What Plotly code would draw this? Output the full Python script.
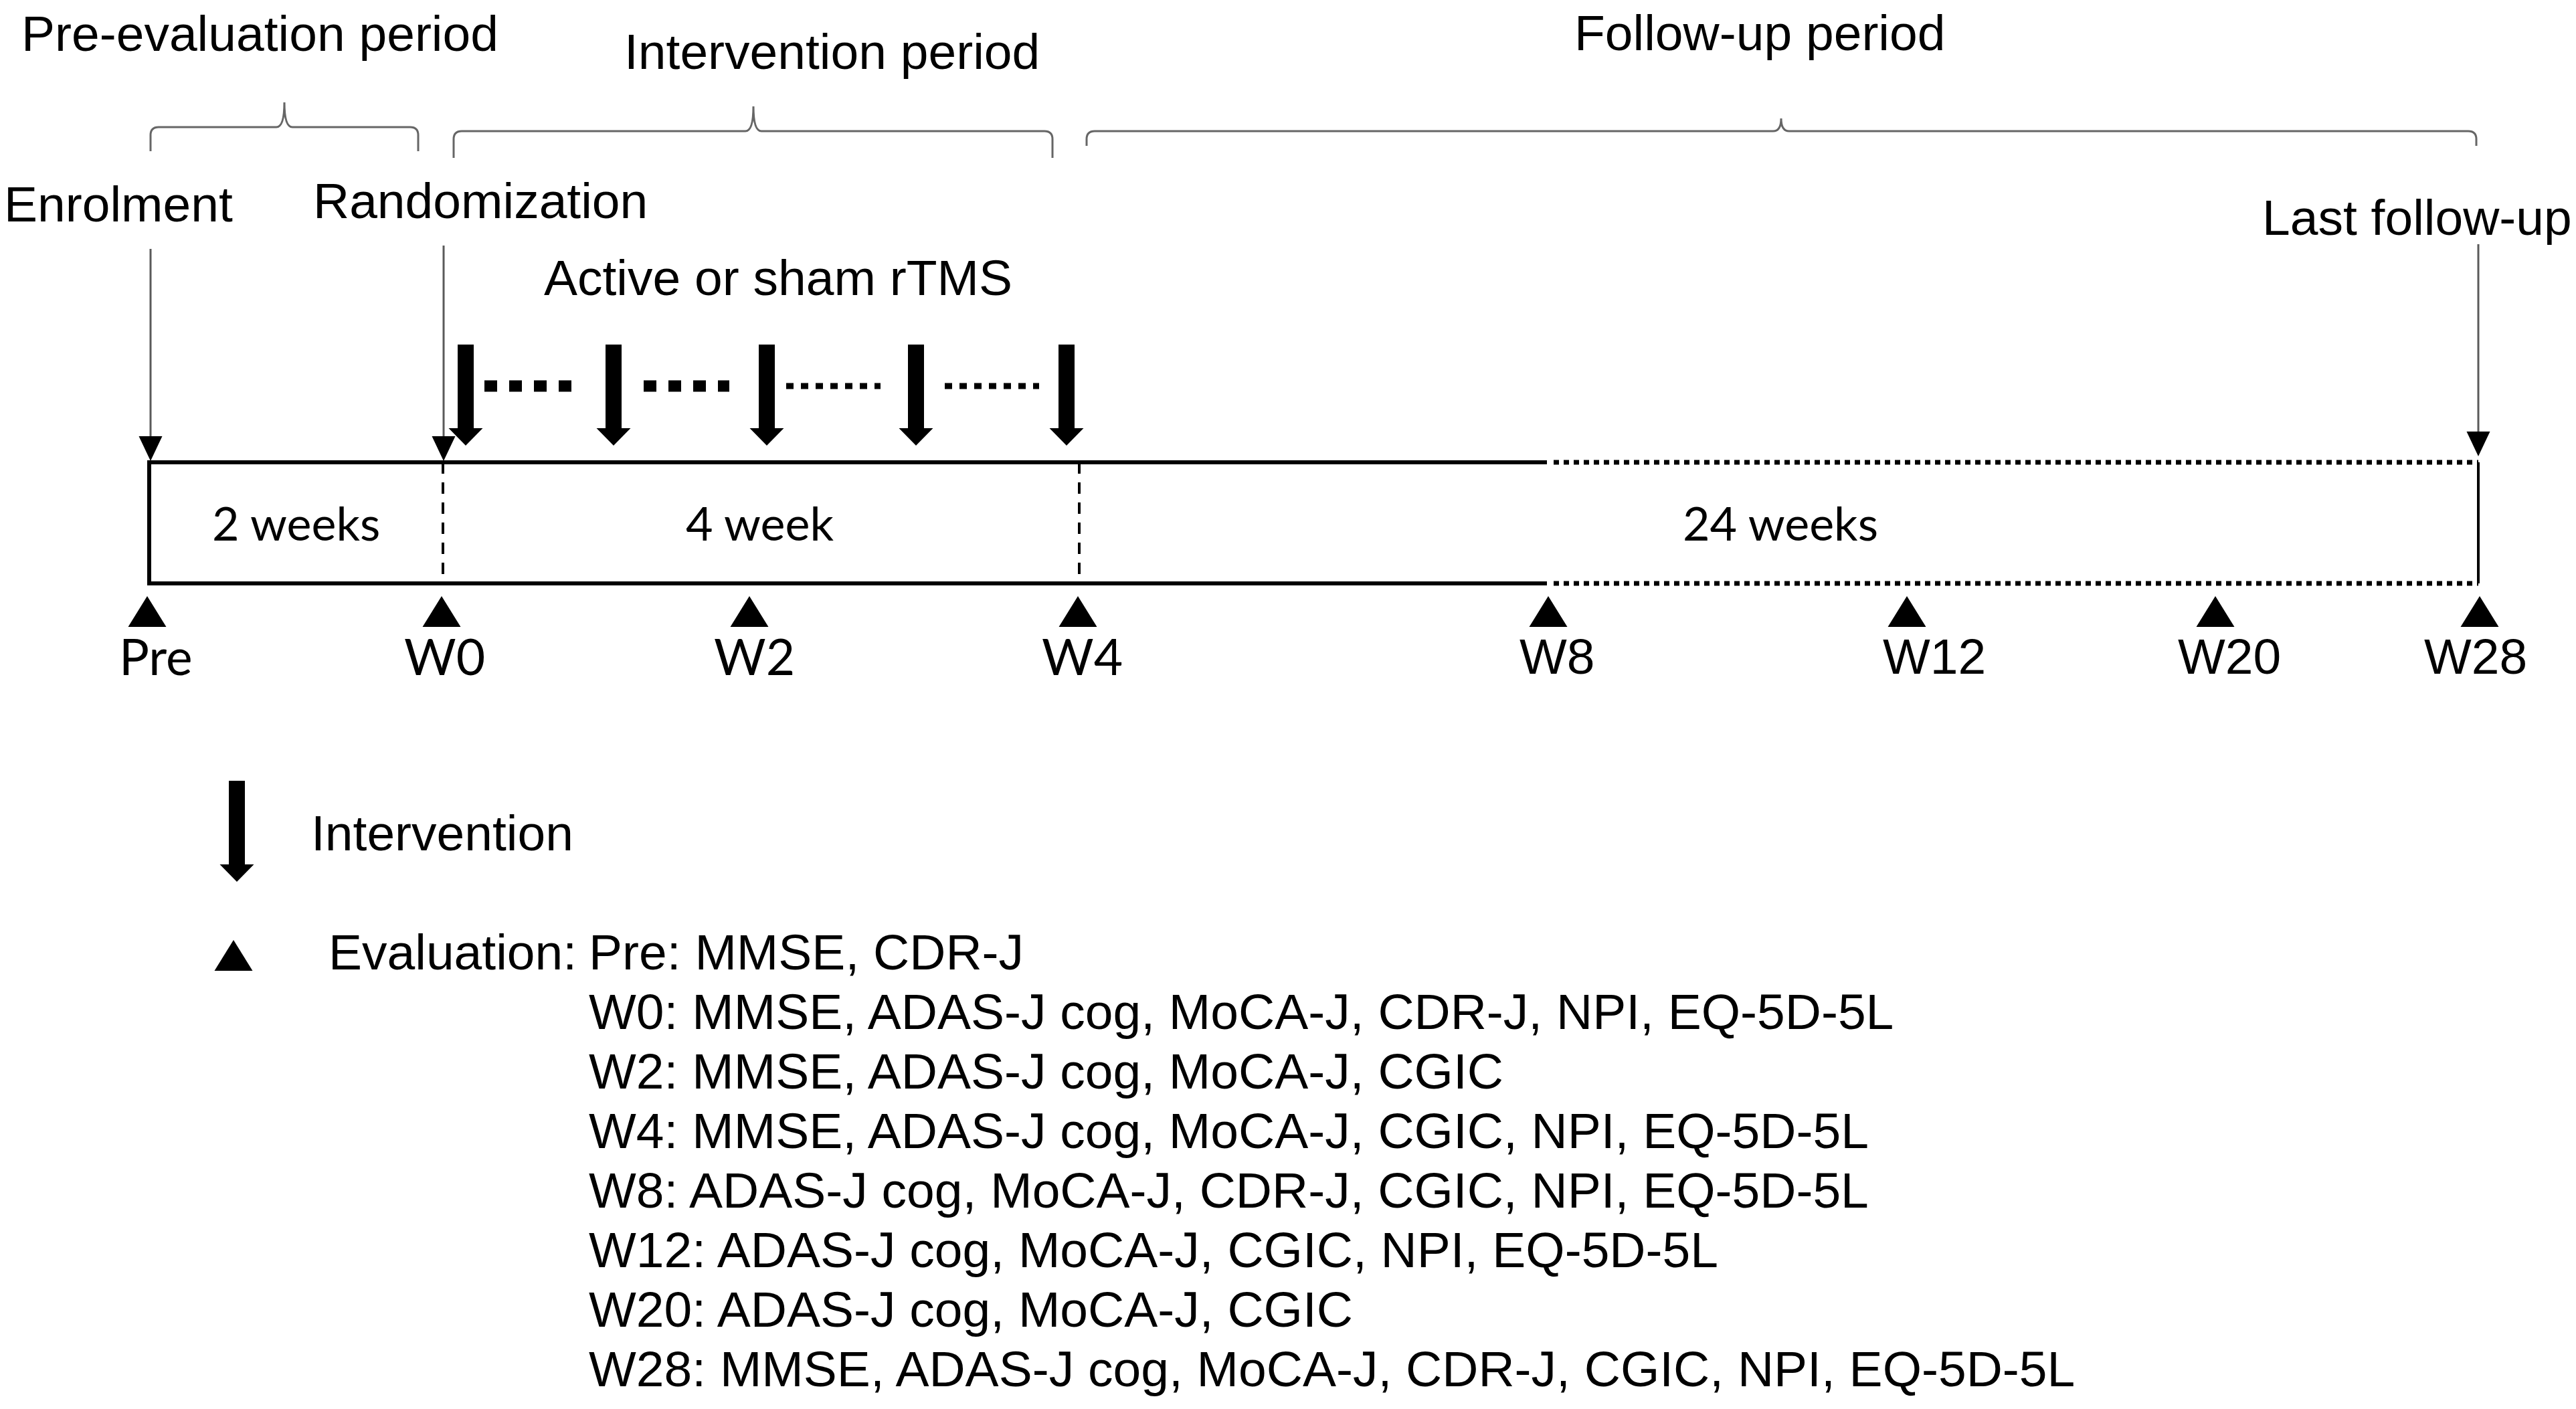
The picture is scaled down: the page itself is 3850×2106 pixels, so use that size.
import plotly.graph_objects as go

W, H = 3850, 2106

# evaluation time points on the timeline
TIMEPOINTS = ["Pre", "W0", "W2", "W4", "W8", "W12", "W20", "W28"]
MEASURES = [
    "MMSE, CDR-J",
    "MMSE, ADAS-J cog, MoCA-J, CDR-J, NPI, EQ-5D-5L",
    "MMSE, ADAS-J cog, MoCA-J, CGIC",
    "MMSE, ADAS-J cog, MoCA-J, CGIC, NPI, EQ-5D-5L",
    "ADAS-J cog, MoCA-J, CDR-J, CGIC, NPI, EQ-5D-5L",
    "ADAS-J cog, MoCA-J, CGIC, NPI, EQ-5D-5L",
    "ADAS-J cog, MoCA-J, CGIC",
    "MMSE, ADAS-J cog, MoCA-J, CDR-J, CGIC, NPI, EQ-5D-5L",
]
PERIOD_LENGTHS = ["2 weeks", "4 week", "24 weeks"]
PERIOD_NAMES = ["Pre-evaluation period", "Intervention period", "Follow-up period"]
MILESTONES = ["Enrolment", "Randomization", "Last follow-up"]
N_SESSIONS_SHOWN = 5

# ---- layout (pixel positions of the schematic) ----
tp_x = [220, 660, 1120, 1611, 2314, 2850, 3311, 3706]
tp_label_x = [233, 664, 1127, 1617, 2327, 2891, 3332, 3700]
tp_label_font = ["Lato", "Lato", "Lato", "Lato",
                 "Liberation Sans", "Liberation Sans", "Liberation Sans", "Liberation Sans"]
box_top, box_bot = 691, 872
box_left, box_solid_end, box_right = 223, 2312, 3704
dash_x = [662, 1613]
period_x = [442, 1136, 2661]
session_x = [696, 917, 1146, 1369, 1594]
# brace: x0, x1, xc, y of bar, end drop, tip rise
braces = [(225, 625, 425, 190, 36, 37),
          (678, 1573, 1126, 196, 40, 37),
          (1624, 3701, 2662, 196, 22, 19)]
brace_label = [(388, 77), (1243, 104), (2630, 76)]
milestone_x = [225, 663, 3704]
milestone_top = [372, 367, 365]
milestone_tip = [689, 689, 682]
milestone_label = [(177, 332), (718, 327), (3612, 352)]
connectors = [(724, 855, "19px,18px", 17), (962, 1090, "19px,18px", 17),
              (1175, 1316, "11px,11px", 9), (1412, 1553, "11px,11px", 9)]

FS = 75
ARIAL = "Liberation Sans"


def tri_up(xs, apex, w=57, h=46):
    px, py = [], []
    for x in xs:
        px += [x - w / 2, x + w / 2, x, x - w / 2, None]
        py += [apex + h, apex + h, apex, apex + h, None]
    return px, py


def tri_down(xs, tips, w, h):
    px, py = [], []
    for x, tip in zip(xs, tips):
        px += [x - w / 2, x + w / 2, x, x - w / 2, None]
        py += [tip - h, tip - h, tip, tip - h, None]
    return px, py


def thick_arrows(xs, top, tip, shaft=24, hw=51, hh=26):
    px, py = [], []
    for x in xs:
        b = tip - hh
        px += [x - shaft / 2, x + shaft / 2, x + shaft / 2, x + hw / 2, x,
               x - hw / 2, x - shaft / 2, x - shaft / 2, None]
        py += [top, top, b, b, tip, b, b, top, None]
    return px, py


def poly(px, py, color="black"):
    return go.Scatter(x=px, y=py, mode="lines", fill="toself", fillcolor=color,
                      line=dict(width=0, color=color), hoverinfo="skip")


def seg(xs, ys, width, color="black", dash="solid"):
    return go.Scatter(x=xs, y=ys, mode="lines", line=dict(width=width, color=color, dash=dash),
                      hoverinfo="skip")


fig = go.Figure()

# timeline box
fig.add_trace(seg([box_solid_end, box_left, box_left, box_solid_end],
                  [box_top, box_top, box_bot, box_bot], 6))
fig.add_trace(seg([box_solid_end + 10, box_right, None, box_solid_end + 10, box_right],
                  [box_top, box_top, None, box_bot, box_bot], 7, dash="8px,7px"))
fig.add_trace(seg([box_right, box_right], [box_top, box_bot], 4))
for x in dash_x:
    fig.add_trace(seg([x, x], [box_top, box_bot], 4, dash="17px,13px"))

# evaluation triangles
fig.add_trace(poly(*tri_up(tp_x, 891)))

# intervention sessions
fig.add_trace(poly(*thick_arrows(session_x[:N_SESSIONS_SHOWN], 515, 666)))
for x0, x1, dash, w in connectors:
    fig.add_trace(seg([x0, x1], [577, 577], w, dash=dash))

# milestone arrows
for x, t0, t1 in zip(milestone_x, milestone_top, milestone_tip):
    fig.add_trace(seg([x, x], [t0, t1 - 30], 3, color="#5a5a5a"))
fig.add_trace(poly(*tri_down(milestone_x, milestone_tip, 35, 37)))

# legend symbols
fig.add_trace(poly(*thick_arrows([354], 1167, 1318)))
fig.add_trace(poly(*tri_up([349], 1405)))

# braces
shapes = []
c = 12
for x0, x1, xc, yl, d, r in braces:
    path = (f"M{x0},{yl + d} L{x0},{yl + c} Q{x0},{yl} {x0 + c},{yl} "
            f"L{xc - c},{yl} Q{xc},{yl} {xc},{yl - r} Q{xc},{yl} {xc + c},{yl} "
            f"L{x1 - c},{yl} Q{x1},{yl} {x1},{yl + c} L{x1},{yl + d}")
    shapes.append(dict(type="path", path=path, xref="x", yref="y",
                       line=dict(color="#666666", width=3)))

ann = []


def text(t, x, base, size=FS, family=ARIAL, xanchor="center", k=0.36):
    ann.append(dict(text=t, x=x, y=base - k * size, xref="x", yref="y",
                    xanchor=xanchor, yanchor="middle", showarrow=False,
                    font=dict(family=family, size=size, color="black")))


for name, (x, b) in zip(PERIOD_NAMES, brace_label):
    text(name, x, b)
for name, (x, b) in zip(MILESTONES, milestone_label):
    text(name, x, b)
text("Active or sham rTMS", 1163, 442)
for t, x in zip(PERIOD_LENGTHS, period_x):
    text(t, x, 808, size=70, family="Lato", k=0.38)
for t, x, f in zip(TIMEPOINTS, tp_label_x, tp_label_font):
    text(t, x, 1008, family=f, k=0.38 if f == "Lato" else 0.36)

text("Intervention", 463, 1272, xanchor="left")
text("Evaluation:", 489, 1450, xanchor="left")
for i, (tp, m) in enumerate(zip(TIMEPOINTS, MEASURES)):
    text(f"{tp}: {m}", 878, 1450 + 89 * i, xanchor="left")

fig.update_layout(
    width=W, height=H,
    margin=dict(l=0, r=0, t=0, b=0),
    paper_bgcolor="white", plot_bgcolor="white",
    showlegend=False, hovermode=False,
    xaxis=dict(range=[0, W], visible=False, fixedrange=True),
    yaxis=dict(range=[H, 0], visible=False, fixedrange=True),
    shapes=shapes, annotations=ann,
)

# drop the default body margin so the figure fills the window exactly
fig.write_html("out.html", config={"displayModeBar": False},
               post_script="document.body.style.margin='0';document.body.style.overflow='hidden';")
